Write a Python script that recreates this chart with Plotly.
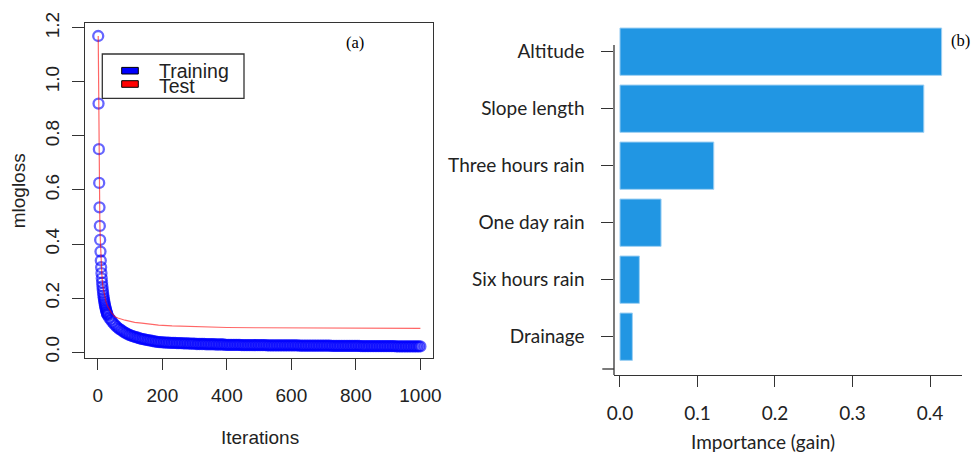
import plotly.graph_objects as go

W, H = 973, 454

# ---- (a) XGBoost learning curves: multi-class log loss per boosting iteration ----
train_iter = list(range(1, 31)) + list(range(35, 1001, 5))
train_mlogloss = [
    1.170, 0.920, 0.751, 0.626, 0.536, 0.467, 0.415, 0.372, 0.339, 0.314,
    0.292, 0.273, 0.257, 0.243, 0.231, 0.220, 0.210, 0.201, 0.193, 0.186,
    0.179, 0.173, 0.167, 0.162, 0.157, 0.152, 0.148, 0.144, 0.140, 0.137,
    # 35 .. 200 every 5 iterations
    0.127, 0.119, 0.111, 0.104, 0.098, 0.092, 0.087, 0.083, 0.079, 0.075,
    0.071, 0.068, 0.065, 0.063, 0.060, 0.058, 0.056, 0.054, 0.053, 0.051,
    0.049, 0.048, 0.047, 0.045, 0.044, 0.043, 0.042, 0.041, 0.040, 0.039,
    0.038, 0.037, 0.037, 0.036,
    # 205 .. 400
    0.036, 0.035, 0.035, 0.035, 0.034, 0.034, 0.034, 0.034, 0.033, 0.033,
    0.033, 0.033, 0.032, 0.032, 0.032, 0.032, 0.031, 0.031, 0.031, 0.031,
    0.030, 0.030, 0.030, 0.030, 0.030, 0.030, 0.029, 0.029, 0.029, 0.029,
    0.029, 0.029, 0.028, 0.028, 0.028, 0.028, 0.028, 0.028, 0.027, 0.027,
    # 405 .. 600
    0.027, 0.027, 0.027, 0.027, 0.027, 0.027, 0.027, 0.027, 0.026, 0.026,
    0.026, 0.026, 0.026, 0.026, 0.026, 0.026, 0.026, 0.026, 0.026, 0.026,
    0.026, 0.026, 0.026, 0.026, 0.025, 0.025, 0.025, 0.025, 0.025, 0.025,
    0.025, 0.025, 0.025, 0.025, 0.025, 0.025, 0.025, 0.025, 0.025, 0.025,
    # 605 .. 800
    0.025, 0.025, 0.025, 0.025, 0.024, 0.024, 0.024, 0.024, 0.024, 0.024,
    0.024, 0.024, 0.024, 0.024, 0.024, 0.024, 0.024, 0.024, 0.024, 0.024,
    0.024, 0.024, 0.024, 0.024, 0.023, 0.023, 0.023, 0.023, 0.023, 0.023,
    0.023, 0.023, 0.023, 0.023, 0.023, 0.023, 0.023, 0.023, 0.023, 0.023,
    # 805 .. 1000
    0.023, 0.023, 0.022, 0.022, 0.022, 0.022, 0.022, 0.022, 0.022, 0.022,
    0.022, 0.022, 0.022, 0.022, 0.022, 0.022, 0.022, 0.022, 0.022, 0.022,
    0.022, 0.022, 0.022, 0.022, 0.021, 0.021, 0.021, 0.021, 0.021, 0.021,
    0.021, 0.021, 0.021, 0.021, 0.021, 0.021, 0.021, 0.021, 0.021, 0.021,
]

test_iter = [1, 2, 3, 4, 5, 6, 7, 8, 9, 10, 12, 15, 20, 25, 30, 36, 42, 53, 62, 84,
             114, 136, 166, 188, 230, 270, 322, 400, 500, 600, 700, 800, 900, 1000]
test_mlogloss = [1.170, 0.925, 0.758, 0.636, 0.548, 0.482, 0.432, 0.392, 0.360, 0.333,
                 0.292, 0.245, 0.210, 0.186, 0.170, 0.155, 0.145, 0.131, 0.126, 0.118,
                 0.110, 0.107, 0.102, 0.100, 0.097, 0.095, 0.093, 0.091, 0.090, 0.089,
                 0.0885, 0.088, 0.088, 0.0877]

iter_ticks = [0, 200, 400, 600, 800, 1000]
loss_ticks = [0.0, 0.2, 0.4, 0.6, 0.8, 1.0, 1.2]

# ---- (b) feature importance (gain), bottom to top ----
features = ["Drainage", "Six hours rain", "One day rain",
            "Three hours rain", "Slope length", "Altitude"]
gain = [0.016, 0.025, 0.053, 0.121, 0.392, 0.415]
gain_ticks = [0.0, 0.1, 0.2, 0.3, 0.4]

legend_names = ["Training", "Test"]
legend_colors = ["#0000FF", "#FF0000"]


def px(x):
    return x / W


def py(y):
    return 1 - y / H


SANS = "Liberation Sans, Arial, sans-serif"
HUMANIST = "Lato, Open Sans, sans-serif"
SERIF = "Liberation Serif, DejaVu Serif, serif"
AXIS = "#333333"
TXT = "#222222"

fig = go.Figure()

fig.add_trace(go.Scatter(
    x=train_iter, y=train_mlogloss, mode="markers", name=legend_names[0],
    marker=dict(symbol="circle-open", size=10, color="rgba(0,0,255,0.6)",
                line=dict(width=2.3, color="rgba(0,0,255,0.6)")),
    xaxis="x", yaxis="y", showlegend=False,
))
fig.add_trace(go.Scatter(
    x=test_iter, y=test_mlogloss, mode="lines", name=legend_names[1],
    line=dict(color="rgba(255,0,0,0.6)", width=1.2),
    xaxis="x", yaxis="y", showlegend=False,
))

fig.add_trace(go.Bar(
    x=gain, y=features, orientation="h", width=0.83,
    marker=dict(color="#2196E3", line=dict(color="#9ccff3", width=1)),
    xaxis="x2", yaxis="y2", showlegend=False,
))

common = dict(showgrid=False, zeroline=False, ticks="outside", automargin=False,
              tickcolor=AXIS, tickwidth=1.3)

fig.update_layout(
    width=W, height=H,
    margin=dict(l=0, r=0, t=0, b=0, autoexpand=False),
    paper_bgcolor="white", plot_bgcolor="white",
    xaxis=dict(domain=[px(85), px(433.3)], range=[-40, 1040], anchor="y",
               tickvals=iter_ticks, ticklen=11, showline=True, mirror=True,
               linecolor=AXIS, linewidth=1.3,
               tickfont=dict(family=SANS, size=19, color=TXT),
               ticklabelstandoff=9, **common),
    yaxis=dict(domain=[py(358.3), py(23.3)], range=[-0.023, 1.217], anchor="x",
               tickvals=loss_ticks, tickformat=".1f", tickangle=-90, ticklen=12,
               showline=True, mirror=True, linecolor=AXIS, linewidth=1.3,
               tickfont=dict(family=SANS, size=19, color=TXT),
               ticklabelstandoff=5, **common),
    xaxis2=dict(domain=[px(614), px(961.7)], range=[-0.0077, 0.4409], anchor="y2",
                tickvals=gain_ticks, tickformat=".1f", ticklen=11, showline=True,
                linecolor=AXIS, linewidth=1.3,
                tickfont=dict(family=HUMANIST, size=19, color=TXT),
                ticklabelstandoff=10, **common),
    yaxis2=dict(domain=[py(375), py(22)], range=[-0.672, 5.521], anchor="x2",
                type="category", ticklen=11.7, showline=False,
                tickfont=dict(family=HUMANIST, size=19, color=TXT),
                ticklabelstandoff=13, **common),
)

shapes = [
    # (b) vertical axis line and its closing tick
    dict(type="line", xref="paper", yref="paper", x0=px(614), x1=px(614),
         y0=py(45), y1=py(375), line=dict(color=AXIS, width=1.3)),
    dict(type="line", xref="paper", yref="paper", x0=px(602.3), x1=px(614),
         y0=py(369), y1=py(369), line=dict(color=AXIS, width=1.3)),
    # (a) legend frame
    dict(type="rect", xref="paper", yref="paper", x0=px(102.3), x1=px(244),
         y0=py(98.3), y1=py(54), line=dict(color=AXIS, width=1.3),
         fillcolor="white"),
]
annotations = []
swatch_y = [70.7, 84.0]
label_y = [70.5, 86.0]
for name, col, sy, ly in zip(legend_names, legend_colors, swatch_y, label_y):
    shapes.append(dict(type="rect", xref="paper", yref="paper",
                       x0=px(121.7), x1=px(138.3), y0=py(sy + 3.3), y1=py(sy - 3.3),
                       fillcolor=col, line=dict(color="black", width=1)))
    annotations.append(dict(text=name, xref="paper", yref="paper",
                            x=px(157), y=py(ly), xanchor="left", yanchor="middle",
                            showarrow=False,
                            font=dict(family=SANS, size=19.5, color=TXT)))

annotations += [
    dict(text="mlogloss", xref="paper", yref="paper", x=px(18.5), y=py(190.8),
         textangle=-90, showarrow=False, xanchor="center", yanchor="middle",
         font=dict(family=SANS, size=19, color=TXT)),
    dict(text="Iterations", xref="paper", yref="paper", x=px(259.7), y=py(437),
         showarrow=False, xanchor="center", yanchor="middle",
         font=dict(family=SANS, size=19, color=TXT)),
    dict(text="Importance (gain)", xref="paper", yref="paper", x=px(763), y=py(441),
         showarrow=False, xanchor="center", yanchor="middle",
         font=dict(family=HUMANIST, size=19, color=TXT)),
    dict(text="(a)", xref="paper", yref="paper", x=px(355), y=py(42),
         showarrow=False, xanchor="center", yanchor="middle",
         font=dict(family=SERIF, size=16.5, color="black")),
    dict(text="(b)", xref="paper", yref="paper", x=px(960), y=py(40),
         showarrow=False, xanchor="center", yanchor="middle",
         font=dict(family=SERIF, size=16.5, color="black")),
]

fig.update_layout(shapes=shapes, annotations=annotations)

fig.write_html("out.html")
